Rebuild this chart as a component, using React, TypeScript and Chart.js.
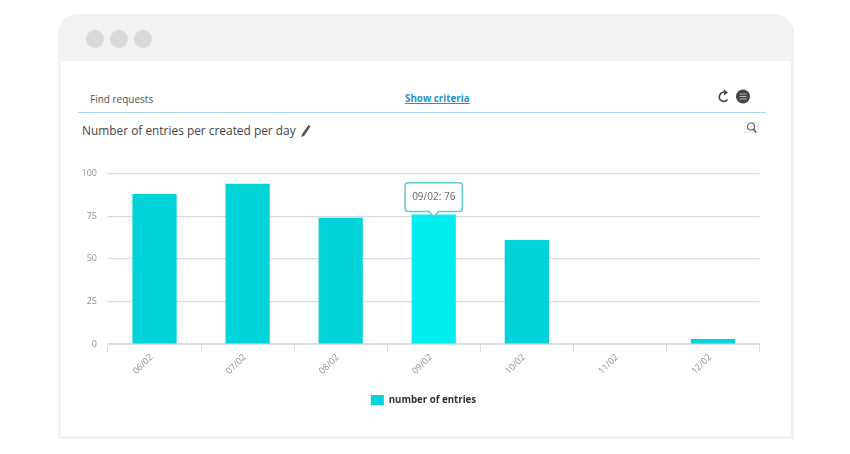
import { useEffect, useRef } from "react"
import { Chart, registerables } from "chart.js"

Chart.register(...registerables)

const categories = ["06/02", "07/02", "08/02", "09/02", "10/02", "11/02", "12/02"]
const entries = [88, 94, 74, 76, 61, 0, 3]
const yTicks = [0, 25, 50, 75, 100]
const seriesName = "number of entries"
const activeIndex = 3

const FONT = "'Open Sans', sans-serif"

// the legend sits off-centre in the original, so nudge it after layout
const legendShift = {
  id: "legendShift",
  afterLayout(chart: any) {
    if (chart.legend) {
      chart.legend.left += 13.75
      chart.legend.right += 13.75
    }
  },
}

export default function App() {
  const chartRef = useRef<HTMLCanvasElement>(null)

  useEffect(() => {
    if (!chartRef.current) return
    const ctx = chartRef.current.getContext("2d")
    if (!ctx) return

    const chart = new Chart(ctx, {
      type: "bar",
      data: {
        labels: categories,
        datasets: [
          {
            label: seriesName,
            data: entries,
            backgroundColor: "#00d4d9",
            hoverBackgroundColor: "#00eef0",
            borderWidth: 0,
            categoryPercentage: 1,
            barPercentage: 0.475,
          },
        ],
      },
      plugins: [legendShift],
      options: {
        animation: false,
        responsive: false,
        events: [],
        layout: { padding: { left: 60, right: 90.5, top: 173.5, bottom: 39 } },
        scales: {
          x: {
            afterFit: (scale: any) => {
              scale.height = 41
            },
            grid: { drawOnChartArea: false, color: "#d3dde6", tickLength: 8, lineWidth: 1 },
            border: { color: "#d3dde6" },
            ticks: {
              color: "#909090",
              font: { family: FONT, size: 9 },
              maxRotation: 45,
              minRotation: 45,
              padding: 0,
              labelOffset: -3,
            },
          },
          y: {
            min: 0,
            max: 100,
            afterFit: (scale: any) => {
              scale.width = 48
            },
            afterBuildTicks: (scale: any) => {
              scale.ticks = yTicks.map((value) => ({ value }))
            },
            grid: { color: "#d9dadf", lineWidth: 1.2, drawTicks: false },
            border: { display: false },
            ticks: {
              color: "#909090",
              font: { family: FONT, size: 9 },
              padding: 11,
            },
          },
        },
        plugins: {
          legend: {
            position: "bottom",
            labels: {
              boxWidth: 13,
              boxHeight: 10,
              padding: 10,
              color: "#333",
              font: { family: FONT, size: 9.7, weight: "bold" },
            },
          },
          tooltip: {
            enabled: true,
            yAlign: "bottom",
            xAlign: "center",
            backgroundColor: "#fff",
            borderColor: "#5ccccc",
            borderWidth: 1.5,
            cornerRadius: 3,
            caretSize: 5,
            caretPadding: -2,
            displayColors: false,
            padding: { left: 7, right: 7, top: 8.3, bottom: 8.3 },
            bodyColor: "#666",
            bodyFont: { family: FONT, size: 10 },
            callbacks: {
              title: () => "",
              label: (context: any) => context.label + ": " + context.parsed.y,
            },
          },
        },
      },
    })

    const active = [{ datasetIndex: 0, index: activeIndex }]
    chart.setActiveElements(active)
    chart.tooltip?.setActiveElements(active, { x: 0, y: 0 })
    chart.update()

    return () => {
      chart.destroy()
    }
  }, [])

  const text = (left: number, top: number, style: React.CSSProperties = {}) => ({
    position: "absolute" as const,
    left,
    top,
    fontFamily: FONT,
    whiteSpace: "nowrap" as const,
    ...style,
  })

  return (
    <div style={{ position: "fixed", left: 0, top: 0, width: 850, height: 454, background: "#fff", overflow: "hidden" }}>
      {/* window frame */}
      <div style={{ position: "absolute", left: 58, top: 14, width: 736, height: 425, boxSizing: "border-box", border: "3px solid #f1f2f4", borderTop: "none", borderRadius: "20px 20px 0 0" }} />
      <div style={{ position: "absolute", left: 58, top: 14, width: 736, height: 47, background: "#f1f2f4", borderRadius: "20px 20px 0 0" }} />
      {[86, 110, 134].map((left) => (
        <div key={left} style={{ position: "absolute", left, top: 30, width: 18, height: 18, borderRadius: "50%", background: "#d9d9d9" }} />
      ))}

      {/* toolbar */}
      <div style={text(90, 92, { fontSize: 10, color: "#555" })}>Find requests</div>
      <div style={text(405, 92, { fontSize: 9.8, fontWeight: 700, color: "#2a93c9", textDecoration: "underline" })}>Show criteria</div>
      <div style={{ position: "absolute", left: 78, top: 111.5, width: 688, height: 1.5, background: "#a9d9f2" }} />
      <svg style={{ position: "absolute", left: 715, top: 88 }} width="36" height="18" viewBox="0 0 36 18">
        <path d="M12.5 11.5 A4.5 4.5 0 1 1 10 4.5" fill="none" stroke="#444" strokeWidth="1.6" />
        <path d="M9 1.5 L13 4.5 L9 7.5 Z" fill="#444" />
        <circle cx="28" cy="8.5" r="7" fill="#444" />
        <path d="M24.5 6 H31.5 M24.5 8.5 H31.5 M24.5 11 H31.5" stroke="#bbb" strokeWidth="1" />
      </svg>

      {/* chart title row */}
      <div style={text(82, 122, { fontSize: 11.9, color: "#444" })}>Number of entries per created per day</div>
      <svg style={{ position: "absolute", left: 300, top: 124 }} width="12" height="14" viewBox="0 0 12 14">
        <path d="M8.5 1 L10.5 2.5 L4 12 L1.5 13 L2 10.2 Z" fill="#555" />
      </svg>
      <svg style={{ position: "absolute", left: 744, top: 121 }} width="15" height="14" viewBox="0 0 15 14">
        <path d="M0 2 H15 M0 5 H15 M0 8 H15 M0 11 H15" stroke="#ddd" strokeWidth="1" />
        <circle cx="7" cy="5.5" r="3.5" fill="none" stroke="#666" strokeWidth="1.1" />
        <path d="M9.5 8 L12 11.5" stroke="#555" strokeWidth="1.5" />
      </svg>

      <canvas ref={chartRef} width={850} height={454} style={{ position: "absolute", left: 0, top: 0 }} />
    </div>
  )
}
